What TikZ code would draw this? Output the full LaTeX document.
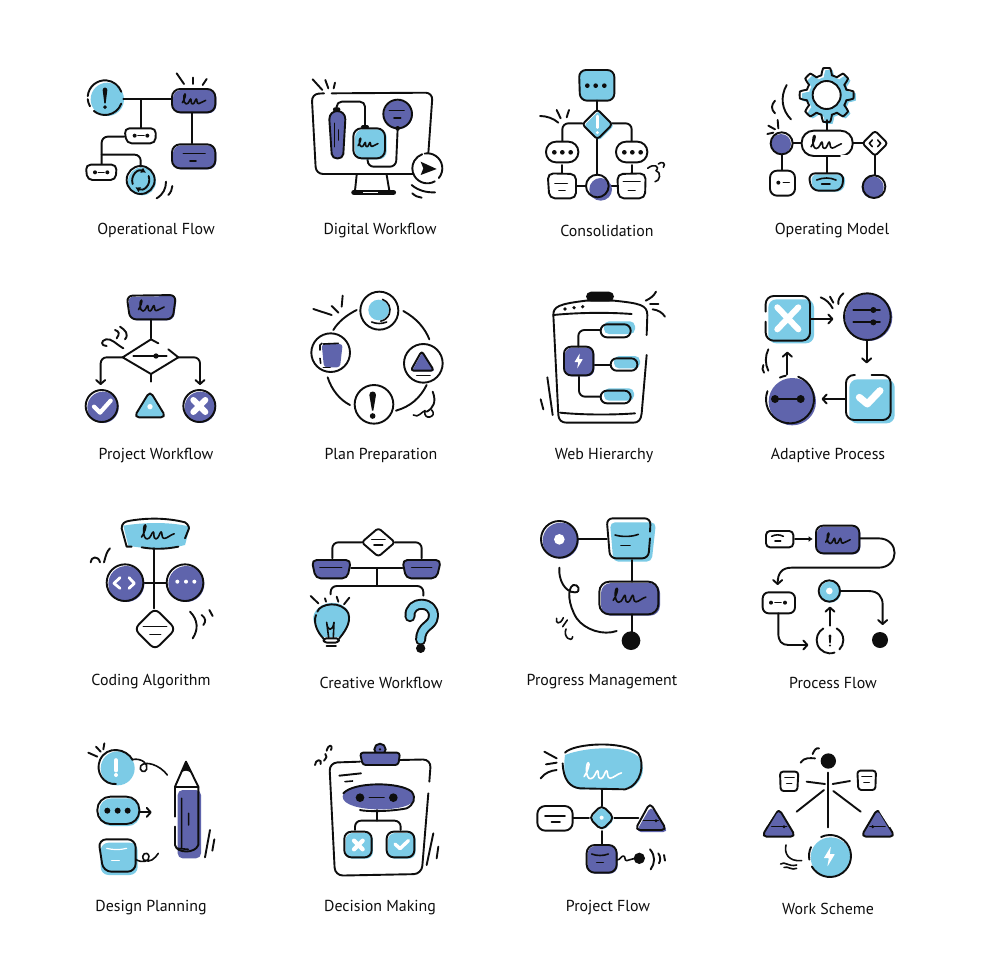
\documentclass[tikz,border=0pt]{standalone}
\usepackage{fontspec}
\setmainfont{PT Sans}
\usetikzlibrary{arrows.meta}
\definecolor{bl}{HTML}{7CCBE6}
\definecolor{pu}{HTML}{5F64AC}
\definecolor{ink}{HTML}{0E0E0E}
\tikzset{
 ln/.style={draw=ink,line width=1.9pt,line cap=round,line join=round},
 tn/.style={draw=ink,line width=1.6pt,line cap=round,line join=round},
 arr/.style={ln,-{Straight Barb[length=4pt,width=9pt,round]}},
 wh/.style={draw=white,line width=4.2pt,line cap=round,line join=round},
 crop/.style 2 args={shift={(#1pt,-#2pt)},x=.33333pt,y=-.33333pt},
 lab/.style={font=\fontsize{15.9}{18}\selectfont,text=ink,inner sep=0pt,anchor=base}
}
\newcommand\Sh[4]{\fill[#1,shift={(#2,#3)}] #4; \draw[ln] #4;}
\newcommand\Ca[6][ln]{\draw[#1] (#2,#3) ++(#5:#4) arc (#5:#6:#4);}
\newcommand\Dt[3]{\fill[ink] (#1,#2) circle (#3);}
\newcommand\Wd[3]{\fill[white] (#1,#2) circle (#3);}
\newcommand\Scr[4]{\draw[tn,draw=#4,shift={(#1,#2)},scale=#3] (-36,8) .. controls (-30,0) and (-24,-18) .. (-28,-18) .. controls (-33,-18) and (-34,12) .. (-24,12) .. controls (-16,12) and (-14,-3) .. (-11,-3) .. controls (-8,-3) and (-12,12) .. (-5,12) .. controls (1,12) and (3,-3) .. (6,-3) .. controls (9,-3) and (6,12) .. (13,11) .. controls (20,10) and (26,3) .. (34,1);}
\newcommand\Excl[5]{\fill[#5] ({#1-#4},{#2+#4}) .. controls ({#1-#4},{#2-#4*.4}) and ({#1+#4},{#2-#4*.4}) .. ({#1+#4},{#2+#4}) -- ({#1+2},#3) -- ({#1-2},#3) -- cycle; \fill[#5] (#1,{#3+#4*1.6}) circle ({#4*.85});}
\newcommand\Bolt[4]{\fill[white,shift={(#1,#2)},scale=#3,rounded corners=.5pt] (3,-20) -- (-11,3) -- (-1,3) -- (-4,20) -- (11,-5) -- (1,-5) -- cycle;}
\begin{document}
\begin{tikzpicture}
\useasboundingbox (0pt,0pt) rectangle (980pt,-980pt);
\fill[white] (0pt,0pt) rectangle (980pt,-980pt);
\node[lab] (t1) at (156pt,-234.5pt) {Operational Flow};
\node[lab] (t2) at (380pt,-234pt) {Digital Workflow};
\node[lab] (t3) at (607pt,-236.7pt) {Consolidation};
\node[lab] (t4) at (832pt,-234pt) {Operating Model};
\node[lab] (t5) at (156pt,-459.5pt) {Project Workflow};
\node[lab] (t6) at (381pt,-459.5pt) {Plan Preparation};
\node[lab] (t7) at (604pt,-459.5pt) {Web Hierarchy};
\node[lab] (t8) at (828pt,-459.5pt) {Adaptive Process};
\node[lab] (t9) at (151pt,-685.5pt) {Coding Algorithm};
\node[lab] (t10) at (381pt,-688pt) {Creative Workflow};
\node[lab] (t11) at (602pt,-685pt) {Progress Management};
\node[lab] (t12) at (833pt,-688pt) {Process Flow};
\node[lab] (t13) at (151pt,-911.5pt) {Design Planning};
\node[lab] (t14) at (380pt,-911.5pt) {Decision Making};
\node[lab] (t15) at (608pt,-911pt) {Project Flow};
\node[lab] (t16) at (828pt,-914pt) {Work Scheme};

%%%%%%%%%%%% ROW 1 LEFT
\begin{scope}[crop={70}{60}]
\fill[bl] (112,118) circle (50);
\Ca{105}{113}{52}{-175}{-20}
\Ca{105}{113}{52}{20}{130}
\Ca{105}{113}{52}{150}{175}
\Excl{105}{83}{130}{7}{ink}
\draw[ln] (160,118) -- (305,118);
\draw[ln] (212,118) -- (212,205);
\Sh{pu}{3}{3}{[rounded corners=8pt] (306,87) rectangle (436,157)}
\Scr{373}{120}{1}{ink}
\draw[ln] (320,40) -- (342,72) (369,53) -- (369,72) (410,57) -- (398,75);
\draw[ln] (366,158) -- (366,250);
\Sh{pu}{3}{3}{[rounded corners=8pt] (306,253) rectangle (436,325)}
\draw[tn] (340,281) -- (405,281) (360,303) -- (378,303);
\draw[ln,rounded corners=6pt] (163,230) -- (95,230) -- (95,312);
\draw[ln,rounded corners=6pt] (95,284) -- (212,284) -- (212,320);
\Sh{white}{0}{0}{[rounded corners=5pt] (163,205) -- (258,205) -- (256,250) -- (170,250) -- cycle}
\Dt{194}{227}{6}\Dt{232}{227}{6}\draw[tn] (204,227) -- (222,227);
\Sh{white}{0}{0}{[rounded corners=5pt] (47,314) -- (140,314) -- (137,360) -- (52,360) -- cycle}
\Dt{75}{337}{6}\Dt{112}{337}{6}\draw[tn] (85,337) -- (102,337);
\Sh{bl}{4}{4}{(212,360) circle (42)}
\draw[ln,-{Latex[length=5pt,width=6pt]}] (188,372) .. controls (180,345) and (205,325) .. (228,338);
\draw[ln,-{Latex[length=5pt,width=6pt]}] (236,348) .. controls (245,375) and (220,395) .. (196,382);
\draw[ln] (260,415) .. controls (280,403) and (288,385) .. (288,365);
\draw[ln] (295,405) .. controls (303,397) and (306,388) .. (307,378);
% Monitor
\draw[ln,rounded corners=7pt] (785,100) -- (1088,98) -- (1075,280);
\draw[ln,rounded corners=7pt] (762,100) -- (725,102) -- (738,342) -- (1028,342);
\draw[ln] (728,58) -- (757,90) (766,60) -- (775,85) (795,68) -- (791,85);
\draw[ln] (860,345) -- (855,392) (950,345) -- (958,392);
\draw[draw=ink,line width=5.5pt,line cap=round] (852,397) -- (970,397);
\draw[draw=white,line width=1.2pt] (880,398) -- (925,398);
\draw[ln,rounded corners=5pt] (800,147) -- (800,125) -- (885,125) -- (885,200);
\Sh{pu}{0}{0}{(778,178) .. controls (778,145) and (826,145) .. (826,178) -- (820,282) .. controls (819,300) and (786,300) .. (785,282) -- cycle}
\draw[tn] (793,190) -- (793,260) (805,210) -- (805,240);
\fill[ink,rounded corners=2pt] (789,142) rectangle (811,155);
\draw[ln,rounded corners=6pt] (983,205) -- (978,320) -- (893,320) -- (893,295);
\Sh{bl}{5}{3}{[rounded corners=8pt] (850,205) rectangle (945,295)}
\Scr{895}{250}{.85}{ink}
\fill[ink,rounded corners=2pt] (873,195) rectangle (897,206);
\Sh{pu}{2}{2}{(983,162) circle (43)}
\draw[tn] (958,152) -- (1002,152) (972,174) -- (992,174);
\Dt{983}{205}{7}
\fill[white] (1072,325) circle (44);
\Ca{1072}{325}{45}{-100}{40}
\Ca{1072}{325}{45}{60}{250}
\fill[ink] (1052,305) -- (1100,327) -- (1052,345) -- (1060,325) -- cycle;
\draw[ln] (1025,375) .. controls (1045,392) and (1070,398) .. (1095,397);
\draw[ln] (1027,400) .. controls (1035,408) and (1045,412) .. (1055,413);
\end{scope}

%%%%%%%%%%%% ROW 1 RIGHT
\begin{scope}[crop={510}{60}]
\Sh{bl}{0}{0}{[rounded corners=7pt] (207,30) -- (313,30) -- (313,122) -- (210,122) -- cycle}
\Dt{232}{77}{7}\Dt{257}{77}{7}\Dt{283}{77}{7}
\draw[ln] (262,122) -- (262,150);
\draw[ln,rounded corners=6pt] (217,190) -- (157,190) -- (157,245);
\draw[ln,rounded corners=6pt] (305,190) -- (365,190) -- (365,245);
\draw[ln] (262,238) -- (262,345);
\Sh{bl}{5}{4}{[rounded corners=3pt] (262,148) -- (307,193) -- (262,238) -- (217,193) -- cycle}
\draw[draw=white,line width=2.6pt,line cap=round] (262,168) -- (262,203);
\Wd{262}{218}{5}
\Sh{white}{0}{0}{[rounded corners=10pt] (108,245) rectangle (205,307)}
\Dt{133}{277}{7}\Dt{157}{277}{7}\Dt{182}{277}{7}
\Sh{white}{0}{0}{[rounded corners=10pt] (318,245) rectangle (412,307)}
\Dt{343}{277}{7}\Dt{367}{277}{7}\Dt{392}{277}{7}
\draw[ln] (156,315) -- (156,338) (365,315) -- (365,338);
\Sh{white}{0}{0}{[rounded corners=5.5pt] (113,340) -- (198,342) -- (198,415) -- (118,415) -- cycle}
\draw[tn] (135,370) -- (172,370) (147,392) -- (165,392);
\Sh{white}{0}{0}{[rounded corners=5.5pt] (322,342) -- (407,340) -- (405,415) -- (325,415) -- cycle}
\draw[tn] (340,365) -- (390,365) (355,392) -- (375,392);
\draw[ln] (198,378) -- (228,378) (296,378) -- (322,378);
\fill[pu] (272,388) circle (34);
\draw[ln] (262,378) circle (34);
\draw[ln] (90,168) .. controls (110,168) and (130,175) .. (145,188);
\draw[ln] (140,150) -- (152,175) (177,150) -- (170,172);
\draw[tn] (413,325) .. controls (430,310) and (452,318) .. (438,332) .. controls (455,335) and (450,365) .. (435,365);
\draw[tn] (445,312) .. controls (455,302) and (470,310) .. (460,322);
% gear
\fill[bl,shift={(7,6)}] plot[domain=0:360,samples=193,smooth] ({950+(71+10*max(min(2*cos(8*\x),1),-1))*cos(\x)},{105+(71+10*max(min(2*cos(8*\x),1),-1))*sin(\x)}) -- cycle;
\draw[ln] plot[domain=0:360,samples=193,smooth] ({950+(71+10*max(min(2*cos(8*\x),1),-1))*cos(\x)},{105+(71+10*max(min(2*cos(8*\x),1),-1))*sin(\x)}) -- cycle;
\Sh{white}{0}{0}{(950,105) circle (42)}
\draw[ln] (950,180) -- (950,212);
\draw[ln] (850,250) -- (875,250);
\draw[ln] (815,285) -- (815,330);
\Sh{white}{0}{0}{[rounded corners=12pt] (875,212) rectangle (1028,288)}
\Scr{950}{250}{1.3}{ink}
\fill[white] (985,285) rectangle (1032,292);
\draw[ln] (945,288) -- (990,288);
\fill[pu] (813,252) circle (30);
\draw[ln] (815,250) circle (33);
\Sh{white}{0}{0}{[rounded corners=7pt] (780,332) rectangle (855,407)}
\Dt{805}{368}{6}\draw[tn] (820,368) -- (838,368);
\draw[ln] (950,288) -- (950,338);
\Sh{bl}{6}{3}{[rounded corners=7pt] (895,340) -- (1002,340) -- (995,392) -- (905,392) -- cycle}
\draw[tn] (920,360) .. controls (940,352) and (960,352) .. (978,360);
\draw[tn] (935,372) -- (960,372);
\draw[ln] (1030,250) -- (1058,250);
\draw[ln] (1095,285) -- (1095,345);
\Sh{white}{0}{0}{[rounded corners=3pt] (1095,212) -- (1133,250) -- (1095,288) -- (1057,250) -- cycle}
\draw[tn] (1087,240) -- (1078,250) -- (1087,260) (1103,240) -- (1112,250) -- (1103,260);
\fill[pu] (1088,382) circle (33);
\draw[ln] (1092,380) circle (34);
\draw[ln] (843,178) .. controls (815,150) and (810,110) .. (830,75);
\draw[ln] (795,160) .. controls (783,148) and (783,135) .. (795,122);
\draw[ln] (803,180) -- (805,205) (775,197) -- (795,208) (772,222) -- (790,218);
\end{scope}

%%%%%%%%%%%% ROW 2 LEFT
\begin{scope}[crop={70}{280}]
\Sh{pu}{3}{3}{[rounded corners=6pt] (170,47) -- (318,45) -- (308,118) -- (180,118) -- cycle}
\Scr{245}{80}{1.1}{ink}
\draw[ln] (243,118) -- (243,175);
\draw[ln] (265,190) -- (243,178) -- (158,232) -- (243,282) -- (325,232) -- (295,208);
\draw[ln] (190,228) -- (290,228);
\Dt{258}{228}{8}
\draw[arr,rounded corners=6pt] (158,232) -- (92,232) -- (92,315);
\draw[arr,rounded corners=6pt] (325,232) -- (390,232) -- (390,315);
\draw[ln] (243,282) -- (243,305);
\fill[pu] (99,382) circle (47);
\draw[ln] (95,378) circle (48);
\draw[wh] (72,380) -- (90,398) -- (122,362);
\Sh{bl}{0}{0}{[rounded corners=5pt] (240,333) -- (288,412) -- (192,412) -- cycle}
\Wd{240}{380}{8}
\fill[pu] (391,382) circle (47);
\draw[ln] (388,378) circle (48);
\draw[wh,line width=6pt] (370,360) -- (406,396) (406,360) -- (370,396);
\draw[ln] (165,178) .. controls (178,162) and (165,150) .. (150,140);
\draw[ln] (140,175) .. controls (150,160) and (148,155) .. (135,150);
\draw[ln] (160,205) .. controls (135,190) and (125,175) .. (108,178) .. controls (92,182) and (92,198) .. (110,198);
% Plan preparation
\draw[ln] (860,90) .. controls (830,105) and (805,125) .. (790,150);
\draw[ln] (1000,93) .. controls (1040,115) and (1065,145) .. (1078,178);
\draw[ln] (1070,315) .. controls (1050,355) and (1020,380) .. (978,392);
\draw[ln] (773,292) .. controls (785,330) and (810,360) .. (840,375);
\draw[ln] (928,92) circle (57);
\fill[bl] (926,90) circle (31);
\draw[tn] (926,90) ++(-70:34) arc (-70:80:34);
\draw[tn] (905,126) .. controls (920,132) and (935,132) .. (950,126);
\draw[ln] (782,218) circle (58);
\fill[pu,rounded corners=3pt] (755,192) -- (818,192) -- (810,262) -- (762,262) -- cycle;
\draw[tn] (760,192) -- (805,190);
\draw[tn] (756,190) -- (750,195) -- (750,210) (750,235) -- (752,250);
\draw[tn] (760,262) -- (780,262);
\draw[ln] (1060,250) circle (58);
\Sh{pu}{3}{2}{[rounded corners=3pt] (1055,213) -- (1092,272) -- (1022,272) -- cycle}
\draw[tn] (1040,287) -- (1080,287);
\draw[ln] (912,373) circle (58);
\Excl{908}{335}{392}{10}{ink}
\draw[ln] (730,87) -- (785,105) (785,78) -- (805,98) (818,47) -- (815,80);
\draw[ln] (1088,335) .. controls (1100,365) and (1090,385) .. (1070,395);
\draw[tn] (1030,405) .. controls (1045,415) and (1055,395) .. (1065,392) .. controls (1058,425) and (1105,410) .. (1085,390);
\end{scope}

%%%%%%%%%%%% ROW 2 RIGHT
\begin{scope}[crop={510}{280}]
\fill[ink,rounded corners=5pt] (228,64) -- (228,35) -- (312,35) -- (312,64) -- cycle;
\draw[ln] (410,165) -- (412,105) .. controls (412,75) and (390,70) .. (312,62) -- (228,62) .. controls (145,72) and (130,80) .. (130,105) -- (145,405) .. controls (146,420) and (155,428) .. (170,428) -- (370,428) .. controls (385,428) and (393,420) .. (395,400) -- (410,225);
\draw[ln] (130,105) .. controls (210,97) and (300,97) .. (365,102);
\Dt{165}{87}{5.5}\Dt{192}{83}{5.5}\Dt{218}{80}{5.5}
\draw[ln] (150,398) .. controls (220,405) and (310,405) .. (375,400);
\draw[ln,rounded corners=6pt] (205,200) -- (205,150) -- (272,150);
\draw[ln] (252,255) -- (302,255);
\draw[ln,rounded corners=6pt] (207,288) -- (207,350) -- (272,350);
\Sh{pu}{3}{3}{[rounded corners=7pt] (162,200) rectangle (250,286)}
\Bolt{206}{243}{1.15}{}
\fill[bl,rounded corners=5pt] (282,124) rectangle (375,162);
\draw[ln,rounded corners=6.3pt] (272,133) rectangle (362,172);
\fill[bl,rounded corners=5pt] (312,228) rectangle (390,265);
\draw[ln,rounded corners=6pt] (302,235) rectangle (382,272);
\fill[bl,rounded corners=5pt] (282,325) rectangle (372,362);
\draw[ln,rounded corners=6.2pt] (272,332) rectangle (362,370);
\draw[ln] (407,62) .. controls (422,55) and (432,47) .. (438,35);
\draw[ln] (420,72) -- (445,72);
\draw[ln] (428,88) .. controls (445,90) and (457,98) .. (465,110);
\draw[ln] (112,292) -- (128,405) (92,358) -- (100,388);
% Adaptive
\fill[bl,rounded corners=8pt] (775,58) rectangle (912,190);
\draw[ln,rounded corners=8pt] (767,95) -- (767,48) -- (900,48) -- (900,182) -- (767,182) -- (767,125);
\draw[wh,line width=6pt] (802,82) -- (865,148) (865,82) -- (802,148);
\draw[arr] (900,117) -- (970,117);
\fill[pu] (1076,112) circle (71);
\draw[ln] (1072,110) circle (70);
\draw[ln] (1030,90) -- (1110,90) (1030,127) -- (1110,127);
\Dt{1090}{90}{9}\Dt{1090}{127}{9}
\draw[arr] (1070,182) -- (1070,250);
\fill[bl,rounded corners=8pt] (1018,298) rectangle (1154,430);
\draw[ln,rounded corners=8pt] (1035,285) -- (1008,285) -- (1008,420) -- (1142,420) -- (1142,285) -- (1085,285);
\draw[wh,line width=7pt] (1048,352) -- (1072,372) -- (1110,332);
\draw[arr] (1008,357) -- (935,357);
\fill[pu] (847,365) circle (71);
\draw[ln] (840,358) ++(-70:72) arc (-70:200:72);
\draw[ln] (840,358) ++(-115:72) arc (-115:-100:72);
\Dt{795}{357}{12}\Dt{872}{357}{12}\draw[tn] (795,357) -- (872,357);
\draw[arr] (832,283) -- (832,215);
\draw[ln] (932,52) .. controls (948,58) and (960,70) .. (968,85);
\draw[ln] (960,50) -- (970,68);
\draw[ln] (1000,40) .. controls (988,50) and (984,60) .. (985,72);
\draw[ln] (775,208) .. controls (765,228) and (765,252) .. (775,272);
\draw[ln] (760,255) .. controls (756,263) and (757,272) .. (762,278);
\end{scope}

%%%%%%%%%%%% ROW 3 LEFT
\begin{scope}[crop={70}{505}]
\fill[bl] (160,62) .. controls (220,52) and (300,50) .. (360,65) -- (345,120) .. controls (300,132) and (220,132) .. (175,122) -- cycle;
\draw[ln] (185,125) -- (170,125) -- (155,70) .. controls (155,55) and (165,50) .. (175,48) .. controls (230,38) and (290,38) .. (345,52) .. controls (355,58) and (360,70) .. (355,75) -- (345,100);
\draw[ln] (215,127) .. controls (250,133) and (285,133) .. (325,125);
\Scr{265}{85}{1.4}{ink}
\draw[ln] (252,130) -- (252,310);
\draw[ln] (218,233) -- (290,233);
\fill[pu] (169,237) circle (54);
\draw[ln] (165,233) circle (55);
\draw[draw=white,line width=2.8pt,line cap=round,line join=round] (150,218) -- (132,235) -- (150,250) (177,218) -- (193,235) -- (177,250);
\fill[pu] (349,237) circle (54);
\draw[ln] (345,233) circle (55);
\Wd{322}{230}{6}\Wd{348}{230}{6}\Wd{373}{230}{6}
\Sh{white}{0}{0}{[rounded corners=6pt] (255,310) -- (317,372) -- (255,434) -- (193,372) -- cycle}
\draw[tn] (220,365) -- (290,365) (240,388) -- (272,388);
\draw[ln] (62,172) .. controls (62,155) and (85,150) .. (90,172);
\draw[ln] (102,172) .. controls (108,150) and (110,140) .. (120,130);
\draw[ln] (360,320) .. controls (385,345) and (385,375) .. (368,400);
\draw[ln] (395,330) .. controls (408,340) and (408,350) .. (400,360);
\draw[ln] (418,315) -- (428,333);
% Creative
\draw[ln,rounded corners=6pt] (875,112) -- (787,112) -- (787,160);
\draw[ln,rounded corners=6pt] (975,112) -- (1055,112) -- (1055,160);
\Sh{white}{0}{0}{[rounded corners=3pt] (925,69) -- (975,112) -- (925,155) -- (875,112) -- cycle}
\draw[tn] (905,103) -- (945,103) (912,120) -- (938,120);
\draw[ln] (843,190) -- (997,190) (920,190) -- (920,243);
\draw[ln,rounded corners=6pt] (782,268) -- (782,243) -- (1060,243) -- (1060,272);
\Sh{pu}{0}{2}{[rounded corners=5pt] (725,165) -- (843,165) -- (832,220) -- (737,220) -- cycle}
\draw[tn] (750,188) -- (815,188);
\Sh{pu}{0}{2}{[rounded corners=5pt] (997,165) -- (1113,165) -- (1100,220) -- (1008,220) -- cycle}
\draw[tn] (1025,188) -- (1085,188);
\fill[bl] (730,335) .. controls (740,285) and (820,280) .. (836,322) .. controls (845,355) and (825,385) .. (808,396) -- (760,396) .. controls (745,385) and (728,355) .. (730,335) -- cycle;
\draw[ln] (738,330) .. controls (728,355) and (745,385) .. (760,400);
\draw[ln] (742,320) .. controls (750,295) and (815,285) .. (835,325) .. controls (845,355) and (820,385) .. (808,400);
\fill[white,rounded corners=3pt] (760,400) -- (808,400) -- (805,413) -- (762,413) -- cycle;
\draw[ln,rounded corners=3pt] (760,400) -- (808,400) -- (805,413) -- (762,413) -- cycle;
\draw[ln] (770,423) -- (798,423);
\draw[tn] (776,398) -- (770,352) .. controls (772,380) and (788,380) .. (792,352) -- (790,398);
\draw[ln] (722,273) -- (745,295) (765,280) -- (768,290) (800,275) -- (805,290) (838,278) -- (822,298);
\draw[draw=ink,line width=11pt,line cap=round,line join=round] (1020,335) .. controls (1015,285) and (1095,285) .. (1090,335) .. controls (1088,365) and (1052,360) .. (1052,405);
\draw[draw=bl,line width=7pt,line cap=round,line join=round] (1020,335) .. controls (1015,285) and (1095,285) .. (1090,335) .. controls (1088,365) and (1052,360) .. (1052,405);
\Dt{1052}{430}{14}
\end{scope}

%%%%%%%%%%%% ROW 3 RIGHT
\begin{scope}[crop={510}{505}]
\fill[pu] (152,107) circle (54);
\draw[ln] (148,103) circle (55);
\Wd{148}{103}{16}
\draw[ln] (205,103) -- (290,103);
\fill[bl,rounded corners=5pt] (300,52) -- (438,52) -- (425,170) -- (310,170) -- cycle;
\draw[ln,rounded corners=6pt] (420,80) -- (422,40) -- (290,40) -- (300,160) -- (415,160) -- (420,100);
\draw[tn] (315,90) .. controls (335,96) and (365,96) .. (385,88);
\draw[tn] (333,122) -- (360,122);
\draw[ln] (365,165) -- (365,230);
\Sh{pu}{5}{4}{[rounded corners=10pt] (268,230) rectangle (445,328)}
\Scr{360}{275}{1.4}{ink}
\draw[ln] (365,328) -- (365,380);
\Dt{363}{407}{28}
\draw[ln] (148,188) .. controls (145,225) and (165,262) .. (195,262) .. controls (215,262) and (205,235) .. (190,240) .. controls (170,250) and (175,300) .. (200,340) .. controls (225,375) and (280,392) .. (320,378);
\draw[tn] (140,340) .. controls (135,355) and (150,362) .. (160,338);
\draw[tn] (158,365) -- (172,345);
\draw[tn] (168,372) .. controls (158,395) and (185,415) .. (188,395);
% process flow
\Sh{white}{0}{0}{[rounded corners=4pt] (768,78) rectangle (850,127)}
\draw[tn] (785,94) .. controls (797,88) and (808,88) .. (820,94);
\draw[tn] (795,108) -- (812,108);
\draw[ln,-{Latex[length=4pt,width=6pt]}] (855,102) -- (908,102);
\Sh{pu}{3}{3}{[rounded corners=7pt] (918,62) rectangle (1048,145)}
\Scr{985}{103}{1.05}{ink}
\draw[arr] (1050,100) -- (1105,100) .. controls (1170,100) and (1170,188) .. (1105,188) -- (845,188) .. controls (815,188) and (803,205) .. (803,240);
\Sh{white}{0}{0}{[rounded corners=6pt] (758,262) rectangle (855,325)}
\Dt{783}{293}{6}\Dt{825}{293}{6}\draw[tn] (795,293) -- (813,293);
\draw[arr] (805,325) -- (805,385) .. controls (805,408) and (815,420) .. (835,420) -- (895,420);
\Ca{960}{405}{40}{-60}{45}
\Ca{960}{405}{40}{70}{240}
\Excl{960}{388}{415}{4}{ink}
\draw[arr] (960,362) -- (960,305);
\Sh{bl}{3}{3}{(958,258) circle (32)}
\Wd{958}{258}{10}
\draw[arr] (992,258) -- (1075,258) .. controls (1105,258) and (1118,275) .. (1118,300) -- (1118,360);
\Dt{1110}{405}{24}
\end{scope}

%%%%%%%%%%%% ROW 4 LEFT
\begin{scope}[crop={70}{730}]
\fill[bl] (143,115) circle (51);
\draw[ln] (188,90) .. controls (170,55) and (110,45) .. (90,90) .. controls (75,125) and (100,165) .. (138,162);
\draw[draw=white,line width=3.6pt,line cap=round] (138,90) -- (138,122);
\Wd{138}{135}{6}
\draw[ln] (55,68) -- (82,80) (78,50) -- (92,65) (103,40) -- (100,58);
\draw[tn] (190,88) .. controls (215,85) and (235,100) .. (230,118) .. controls (225,132) and (205,122) .. (212,108) .. controls (225,90) and (270,105) .. (292,135);
\fill[bl,rounded corners=12pt] (88,205) rectangle (210,288);
\draw[ln,rounded corners=13pt] (82,200) rectangle (208,282);
\Dt{112}{242}{9}\Dt{143}{242}{9}\Dt{173}{242}{9}
\draw[arr] (208,247) -- (245,247);
\fill[bl,rounded corners=8pt] (92,338) rectangle (203,435);
\draw[ln,rounded corners=8pt] (85,328) -- (197,328) -- (197,425) -- (100,425) -- cycle;
\draw[draw=white,line width=1.2pt,line cap=round] (110,355) .. controls (130,360) and (150,360) .. (170,355);
\draw[draw=white,line width=1.2pt,line cap=round] (125,392) -- (148,392);
\draw[tn] (197,388) .. controls (215,400) and (240,395) .. (237,378) .. controls (230,360) and (210,375) .. (222,390) .. controls (240,400) and (255,385) .. (265,370);
\fill[pu,rounded corners=5pt] (323,180) -- (393,180) -- (393,385) -- (323,385) -- cycle;
\draw[ln] (385,345) -- (385,170) -- (348,95) -- (315,170) -- (315,260);
\draw[ln] (315,290) -- (315,345) .. controls (320,370) and (375,372) .. (385,345);
\fill[ink] (348,95) -- (364,128) .. controls (350,120) and (345,120) .. (333,128) -- cycle;
\draw[ln] (315,172) -- (385,172);
\draw[tn] (335,205) -- (335,355) (356,250) -- (356,285) (320,355) -- (355,358);
\draw[ln] (420,300) -- (405,382) (433,328) -- (427,362);
% Decision
\draw[ln,rounded corners=8pt] (870,95) -- (778,98) -- (795,437) -- (1055,432) -- (1075,190);
\draw[ln,rounded corners=8pt] (990,90) -- (1083,88) -- (1078,155);
\Sh{pu}{0}{0}{(930,58) circle (17)}
\Dt{930}{58}{4}
\Sh{pu}{0}{0}{[rounded corners=3pt] (870,68) -- (990,68) -- (985,105) -- (878,105) -- cycle}
\draw[ln] (808,137) -- (873,130);
\draw[tn] (825,155) -- (848,153);
\fill[pu] (818,200) .. controls (818,150) and (1033,145) .. (1033,205) .. controls (1033,250) and (818,250) .. (818,200) -- cycle;
\draw[ln] (820,190) .. controls (850,155) and (990,155) .. (1025,185) .. controls (1040,205) and (1030,225) .. (1010,235) .. controls (960,245) and (890,245) .. (870,240);
\Dt{870}{203}{13}\Dt{970}{203}{13}\draw[tn] (898,203) -- (942,203);
\draw[ln] (920,240) -- (920,272);
\draw[ln,rounded corners=6pt] (855,300) -- (855,272) -- (992,272) -- (992,300);
\Sh{bl}{4}{4}{[rounded corners=7pt] (823,305) rectangle (905,382)}
\draw[wh] (852,332) -- (878,358) (878,332) -- (852,358);
\Sh{bl}{4}{4}{[rounded corners=7pt] (950,305) rectangle (1033,382)}
\draw[wh,line width=3.4pt] (975,342) -- (990,356) -- (1015,332);
\draw[ln] (735,105) .. controls (735,88) and (758,85) .. (752,102);
\draw[ln] (762,92) .. controls (770,82) and (772,78) .. (766,72);
\draw[ln] (770,62) .. controls (775,42) and (790,42) .. (783,60);
\draw[ln] (1090,310) -- (1070,405) (1105,350) -- (1100,385);
\end{scope}

%%%%%%%%%%%% ROW 4 RIGHT
\begin{scope}[crop={510}{730}]
\fill[bl] (165,75) .. controls (230,50) and (345,45) .. (385,80) .. controls (410,110) and (400,150) .. (365,175) -- (210,178) .. controls (180,175) and (155,150) .. (165,75) -- cycle;
\draw[ln] (165,68) .. controls (190,40) and (340,30) .. (385,70) .. controls (405,100) and (395,165) .. (345,178) -- (210,175) .. controls (180,172) and (160,150) .. (158,100);
\Scr{280}{127}{1.6}{white}
\draw[ln] (103,65) -- (140,85) (108,103) -- (140,98);
\draw[ln] (92,145) .. controls (105,128) and (122,122) .. (140,120);
\draw[ln] (275,178) -- (275,228);
\draw[ln] (190,263) -- (237,263) (313,263) -- (385,263);
\draw[ln] (275,303) -- (275,345);
\Sh{bl}{3}{3}{[rounded corners=5pt] (275,225) -- (313,263) -- (275,301) -- (237,263) -- cycle}
\Wd{275}{263}{6}
\Sh{white}{0}{0}{[rounded corners=8pt] (82,228) rectangle (188,302)}
\draw[ln] (105,257) -- (165,257);
\draw[ln] (125,277) -- (150,277);
\fill[pu,rounded corners=5pt] (423,228) -- (475,306) -- (378,306) -- cycle;
\draw[ln,rounded corners=5pt] (420,218) -- (470,300) -- (375,300) -- cycle;
\draw[tn] (400,272) -- (445,272);\Dt{438}{272}{5}
\Sh{pu}{3}{3}{[rounded corners=8pt] (230,345) rectangle (320,428)}
\draw[tn] (245,372) .. controls (260,378) and (280,378) .. (295,372);
\draw[tn] (260,397) -- (280,397);
\draw[tn] (320,390) .. controls (332,390) and (332,378) .. (340,378) .. controls (348,378) and (342,392) .. (350,392) .. controls (358,392) and (365,385) .. (375,385);
\Dt{388}{385}{17}
\draw[ln] (420,358) .. controls (437,378) and (435,400) .. (422,418);
\draw[ln] (445,370) .. controls (452,380) and (452,392) .. (447,400);
\draw[ln] (462,375) -- (465,392);
% Work scheme
\Dt{955}{93}{23}
\draw[ln] (872,98) .. controls (885,80) and (900,85) .. (915,85);
\draw[ln] (908,72) .. controls (912,62) and (918,52) .. (927,55);
\draw[ln] (955,128) -- (955,292);
\Sh{white}{0}{0}{[rounded corners=3pt] (810,125) -- (865,125) -- (862,183) -- (812,183) -- cycle}
\draw[tn] (825,143) -- (852,143) (830,160) -- (845,160);
\Sh{white}{0}{0}{[rounded corners=3pt] (1042,122) -- (1098,122) -- (1096,180) -- (1045,180) -- cycle}
\draw[tn] (1056,140) -- (1085,140) (1062,158) -- (1078,158);
\draw[ln] (890,155) -- (945,162) (968,162) -- (1020,153) (942,180) -- (860,245) (970,183) -- (1052,245);
\Sh{pu}{0}{0}{[rounded corners=5pt] (806,235) -- (857,320) -- (755,320) -- cycle}
\draw[draw=white,line width=1.4pt] (770,285) -- (797,243);
\draw[tn] (785,290) -- (830,290);\Dt{822}{290}{5}
\Sh{pu}{0}{0}{[rounded corners=5pt] (1103,235) -- (1155,320) -- (1053,320) -- cycle}
\draw[draw=white,line width=1.4pt] (1110,243) -- (1140,290);
\draw[tn] (1080,290) -- (1125,290);\Dt{1088}{290}{5}
\fill[bl] (962,382) circle (60);
\Ca{960}{378}{63}{-115}{150}
\Ca{960}{378}{63}{170}{205}
\Bolt{958}{380}{1.5}{}
\draw[tn] (828,345) .. controls (822,370) and (835,395) .. (875,392);
\draw[tn] (812,402) .. controls (825,392) and (835,412) .. (860,405);
\draw[tn] (822,412) .. controls (835,408) and (845,422) .. (860,415);
\end{scope}
\end{tikzpicture}
\end{document}
